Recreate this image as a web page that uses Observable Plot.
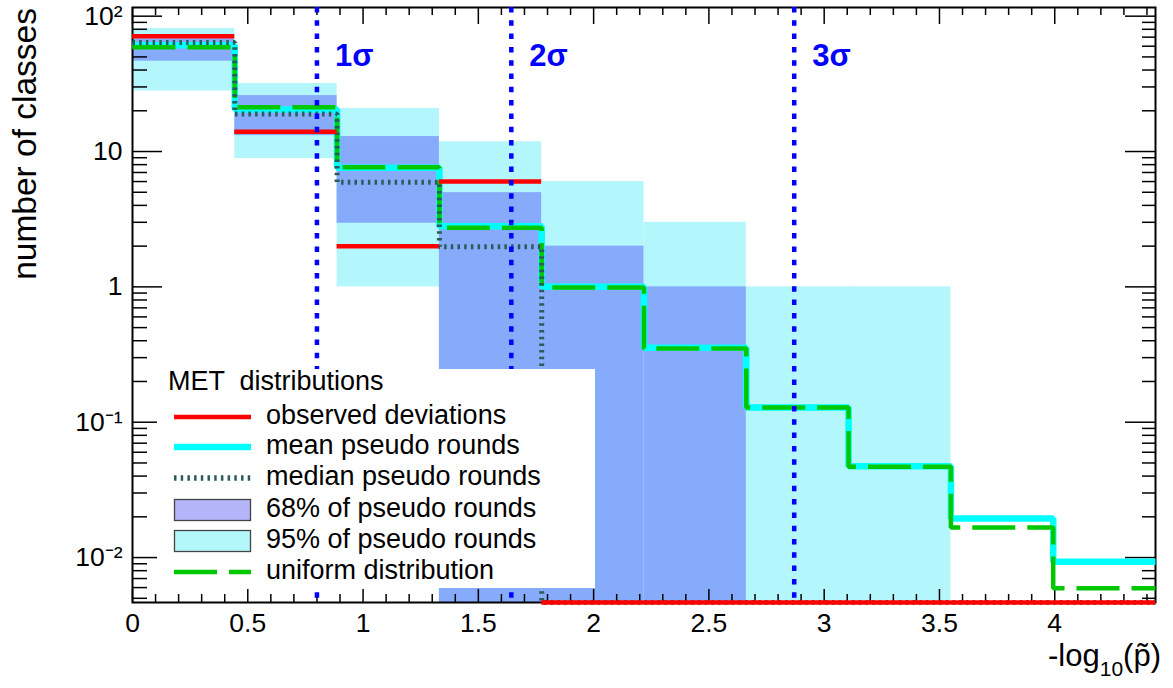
<!DOCTYPE html>
<html>
<head>
<meta charset="utf-8">
<script src="https://cdn.jsdelivr.net/npm/d3@7"></script>
<script src="https://cdn.jsdelivr.net/npm/@observablehq/plot@0.6"></script>
<style>
  body { margin: 0; background: #fff; font-family: "Liberation Sans", Arial, sans-serif; }
  #wrap { position: relative; width: 1173px; height: 688px; overflow: hidden; background: #fff; }
  #chart svg { display: block; }
  #ytitle { position: absolute; left: 8px; top: 8px; font-size: 33.5px; line-height: 33px;
            writing-mode: vertical-rl; transform: rotate(180deg); white-space: nowrap; color: #000; }
  #xtitle { position: absolute; right: 12px; top: 641px; font-size: 31px; line-height: 30px; white-space: nowrap; color: #000; }
  #xtitle sub { font-size: 21px; vertical-align: -10px; line-height: 0; }
  #legend { position: absolute; left: 157px; top: 369px; width: 438px; height: 219px; background: #fff; }
  #legend .t { position: absolute; font-size: 27px; line-height: 30px; white-space: pre; color: #000; }
  #legend svg { position: absolute; }
</style>
</head>
<body>
<div id="wrap">
  <div id="chart"></div>
  <div id="ytitle">number of classes</div>
  <div id="xtitle">-log<sub>10</sub>(p&#x0303;)</div>
  <div id="legend"></div>
</div>
<script>
// ---- data (one value per bin) ----
const binEdges = [0, 0.4437, 0.8874, 1.3311, 1.7748, 2.2185, 2.6622, 3.1059, 3.5496, 3.9933, 4.437];
const observed     = [71, 14, 2, 6, 0, 0, 0, 0, 0, 0];
const meanPseudo   = [61, 20.4, 7.6, 2.8, 1.0, 0.355, 0.1285, 0.0472, 0.0194, 0.0093];
const medianPseudo = [64, 18.9, 5.93, 1.98, 0, 0, 0, 0, 0, 0];
const band68Low    = [46.5, 13.1, 2.95, 0, 0, 0, 0, 0, 0, 0];
const band68High   = [68, 25.9, 12.9, 4.97, 2.0, 1.0, 0, 0, 0, 0];
const band95Low    = [28, 8.87, 1.0, 0, 0, 0, 0, 0, 0, 0];
const band95High   = [81, 31.8, 20.8, 11.8, 6.0, 3.0, 1.0, 1.0, 0, 0];
const uniformDist  = [59, 21.2, 7.65, 2.73, 0.99, 0.351, 0.1285, 0.0469, 0.0167, 0.00594];
const sigmaPos     = [0.80, 1.643, 2.870];
const sigmaLabels  = ["1\u03c3", "2\u03c3", "3\u03c3"];
const xTicks       = [0, 0.5, 1, 1.5, 2, 2.5, 3, 3.5, 4];
const xTickLabels  = ["0", "0.5", "1", "1.5", "2", "2.5", "3", "3.5", "4"];
const yTicks       = [0.01, 0.1, 1, 10, 100];
const yTickLabels  = ["10\u207b\u00b2", "10\u207b\u00b9", "1", "10", "10\u00b2"];
const yDomain      = [0.004656, 115.9];
const legendTitle  = "MET  distributions";
const legendItems  = ["observed deviations", "mean pseudo rounds", "median pseudo rounds",
                      "68% of pseudo rounds", "95% of pseudo rounds", "uniform distribution"];

// ---- derived tables ----
const yLo = yDomain[0];
const floorY = v => Math.max(v, yLo);
const bins = observed.map((o, i) => ({
  x1: binEdges[i], x2: binEdges[i + 1], obs: o,
  l68: band68Low[i], h68: band68High[i], l95: band95Low[i], h95: band95High[i]
}));
function stepPoints(vals) {
  const pts = vals.map((v, i) => ({x: binEdges[i], v}));
  pts.push({x: binEdges[vals.length], v: vals[vals.length - 1]});
  return pts;
}
const sigmas = sigmaPos.map((x, i) => ({x, label: sigmaLabels[i]}));

function notMajor(v) { return Math.round(v * 10) % 5 !== 0; }
const xMinor = d3.range(0, 45, 1).map(k => k / 10).filter(v => notMajor(v) && v <= binEdges[10]);
const yMinor = [];
for (const dec of [0.001, 0.01, 0.1, 1, 10, 100]) for (let m = 2; m <= 9; m++) {
  const v = dec * m; if (v > yDomain[0] && v < yDomain[1]) yMinor.push(v);
}

const W = 1173, H = 688, mL = 132, mR = 18, mT = 7, mB = 86;
const pw = W - mL - mR, ph = H - mT - mB;

const chart = Plot.plot({
  width: W, height: H,
  marginLeft: mL, marginRight: mR, marginTop: mT, marginBottom: mB,
  style: {fontFamily: "'Liberation Sans', Arial, sans-serif", background: "white", color: "black", overflow: "visible"},
  x: {domain: [binEdges[0], binEdges[10]]},
  y: {type: "log", domain: yDomain, clamp: true},
  marks: [
    Plot.rect(bins.filter(d => d.h95 > 0), {x1: "x1", x2: "x2", y1: d => floorY(d.l95), y2: "h95", fill: "#b3f6fb"}),
    Plot.rect(bins.filter(d => d.h68 > 0), {x1: "x1", x2: "x2", y1: d => floorY(d.l68), y2: "h68", fill: "#86abfa"}),
    // ticks (inside frame, on all four sides)
    Plot.tickX(xTicks, {x: d => d, insetTop: ph - 13, stroke: "black", strokeWidth: 1.5}),
    Plot.tickX(xMinor, {x: d => d, insetTop: ph - 8, stroke: "black", strokeWidth: 1.5}),
    Plot.tickX(xTicks, {x: d => d, insetBottom: ph - 17, stroke: "black", strokeWidth: 1.5}),
    Plot.tickX(xMinor, {x: d => d, insetBottom: ph - 8, stroke: "black", strokeWidth: 1.5}),
    Plot.tickY(yTicks, {y: d => d, insetRight: pw - 30, stroke: "black", strokeWidth: 1.5}),
    Plot.tickY(yMinor, {y: d => d, insetRight: pw - 15, stroke: "black", strokeWidth: 1.5}),
    Plot.tickY(yTicks, {y: d => d, insetLeft: pw - 30, stroke: "black", strokeWidth: 1.5}),
    Plot.tickY(yMinor, {y: d => d, insetLeft: pw - 13, stroke: "black", strokeWidth: 1.5}),
    Plot.frame({stroke: "black", strokeWidth: 2}),
    Plot.axisX({ticks: xTicks, tickFormat: d => xTickLabels[xTicks.indexOf(d)], tickSize: 0, tickPadding: 11, fontSize: 26.5, label: null}),
    Plot.axisY({ticks: yTicks, tickFormat: d => yTickLabels[yTicks.indexOf(d)], tickSize: 0, tickPadding: 10, fontSize: 26.5, label: null}),
    // histograms
    Plot.line(stepPoints(meanPseudo), {x: "x", y: d => floorY(d.v), curve: "step-after", stroke: "#00ffff", strokeWidth: 6.5, strokeLinecap: "butt", strokeLinejoin: "miter"}),
    Plot.line(stepPoints(uniformDist), {x: "x", y: d => floorY(d.v), curve: "step-after", stroke: "#00c800", strokeWidth: 4.5, strokeDasharray: "43,12", strokeLinecap: "butt", strokeLinejoin: "miter"}),
    Plot.line(stepPoints(medianPseudo), {x: "x", y: d => floorY(d.v), curve: "step-after", stroke: "#2c5b5b", strokeWidth: 5, strokeDasharray: "2.5,4.2", strokeLinecap: "butt", strokeLinejoin: "miter"}),
    Plot.ruleY(bins, {y: d => floorY(d.obs), x1: "x1", x2: "x2", stroke: "#ff0000", strokeWidth: 4.5, strokeLinecap: "butt"}),
    // significance markers
    Plot.ruleX(sigmas, {x: "x", stroke: "#0000ff", strokeWidth: 4.5, strokeDasharray: "5.5,7.8", strokeLinecap: "butt"}),
    Plot.text(sigmas, {x: "x", text: "label", frameAnchor: "top", dy: 36, dx: 18, textAnchor: "start",
                       fontSize: 31, fontWeight: "bold", fill: "#0000ff"})
  ]
});
document.getElementById("chart").appendChild(chart);

// ---- legend (HTML overlay, white box) ----
const leg = document.getElementById("legend");
const title = document.createElement("div");
title.className = "t"; title.style.left = "11px"; title.style.top = (14 - 17) + "px";
title.textContent = legendTitle;
leg.appendChild(title);
const rowCenters = [47.7, 78.3, 109.3, 141, 172.3, 203];
const NS = "http://www.w3.org/2000/svg";
function sym(i) {
  const s = document.createElementNS(NS, "svg");
  s.setAttribute("width", 80); s.setAttribute("height", 26);
  s.style.left = "16px"; s.style.top = (rowCenters[i] - 13) + "px";
  let el;
  if (i === 0 || i === 1 || i === 2 || i === 5) {
    el = document.createElementNS(NS, "line");
    el.setAttribute("x1", 1); el.setAttribute("x2", 78); el.setAttribute("y1", 13); el.setAttribute("y2", 13);
    const st = [["#ff0000", 4.5, null], ["#00ffff", 6.5, null], ["#2c5b5b", 5.5, "2.5,4.2"], null, null, ["#00c800", 4.5, "43,12"]][i];
    el.setAttribute("stroke", st[0]); el.setAttribute("stroke-width", st[1]);
    if (st[2]) el.setAttribute("stroke-dasharray", st[2]);
  } else {
    el = document.createElementNS(NS, "rect");
    el.setAttribute("x", 1.5); el.setAttribute("y", 2.5); el.setAttribute("width", 76); el.setAttribute("height", 21);
    el.setAttribute("fill", i === 3 ? "#b4b4f8" : "#b3f7fb");
    el.setAttribute("stroke", "#444"); el.setAttribute("stroke-width", 1.3);
  }
  s.appendChild(el);
  return s;
}
legendItems.forEach((txt, i) => {
  leg.appendChild(sym(i));
  const t = document.createElement("div");
  t.className = "t"; t.style.left = "109px"; t.style.top = (rowCenters[i] - 17) + "px";
  t.textContent = txt;
  leg.appendChild(t);
});
</script>
</body>
</html>
